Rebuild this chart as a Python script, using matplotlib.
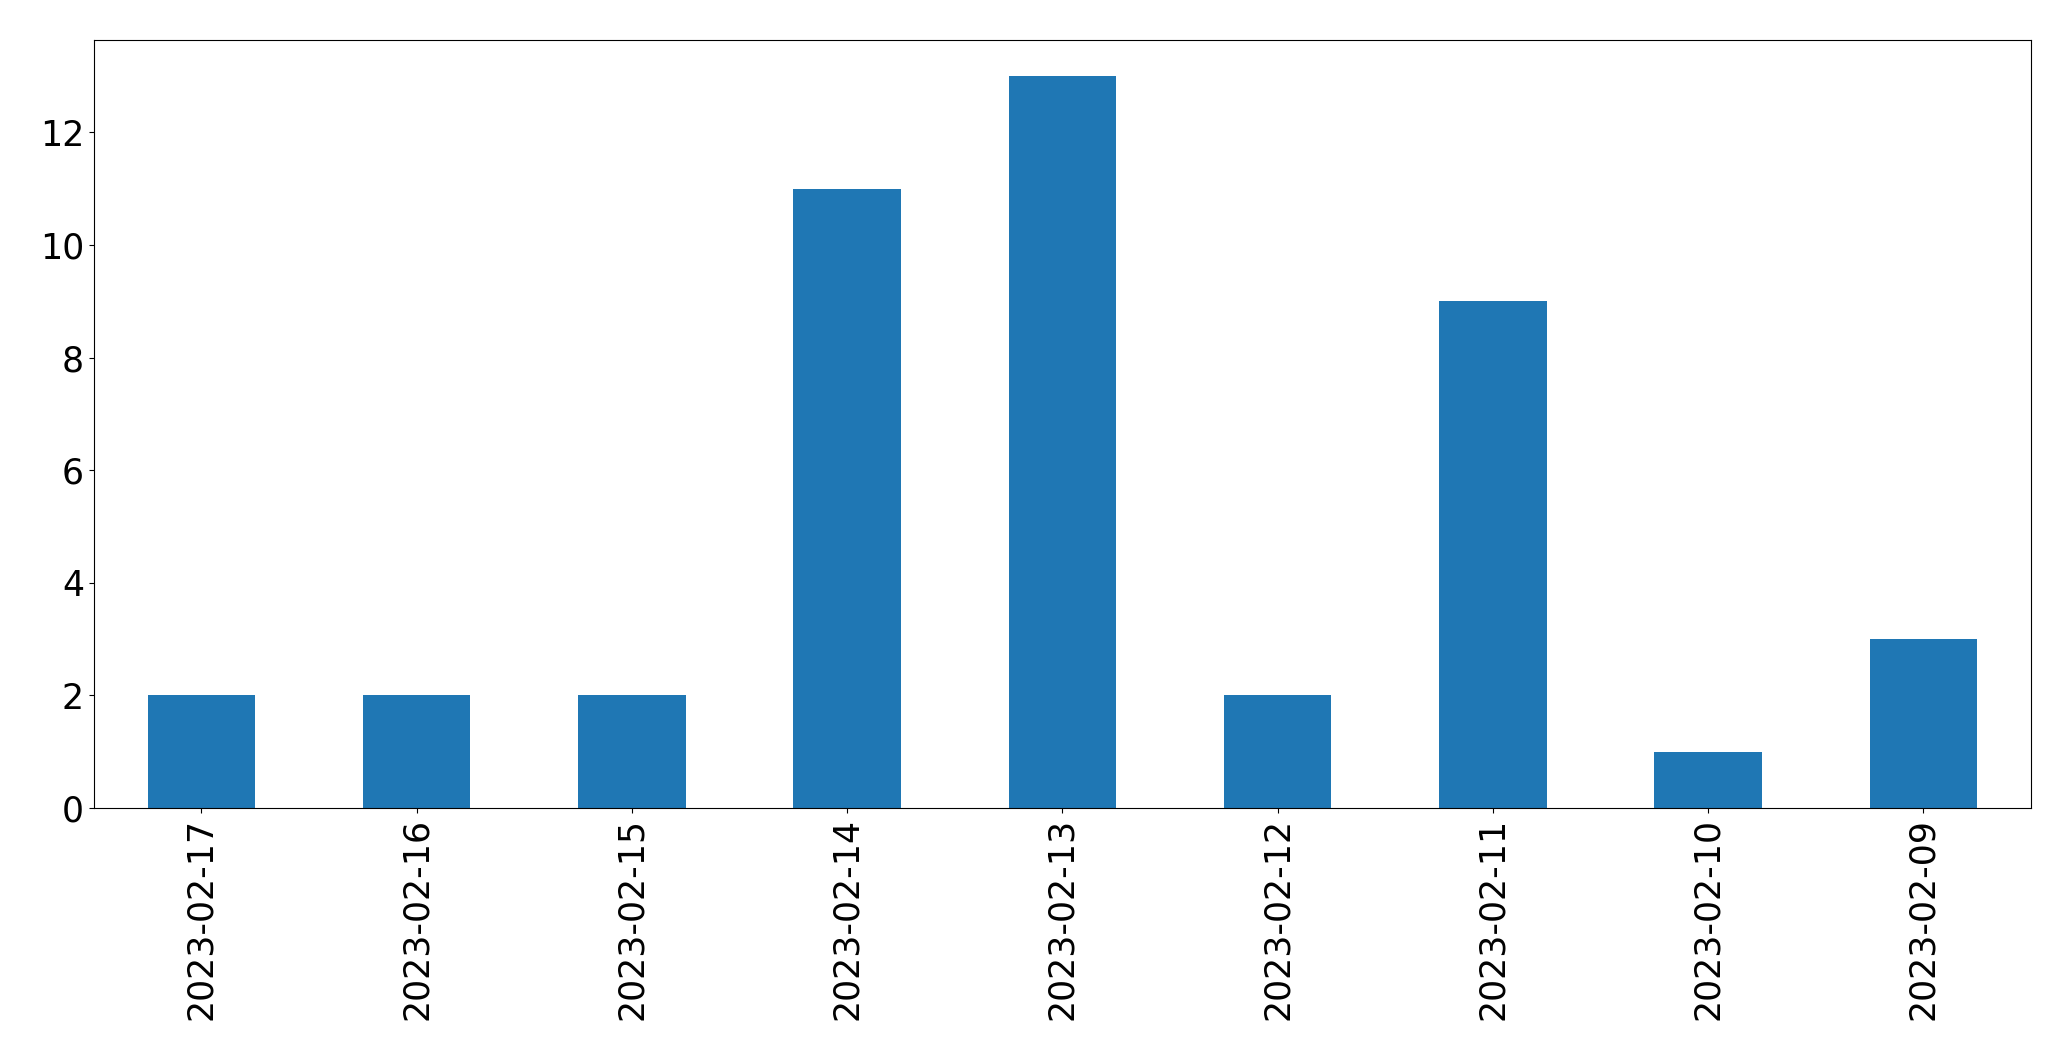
import matplotlib
matplotlib.use("Agg")
import matplotlib.pyplot as plt

dates = ["2023-02-17", "2023-02-16", "2023-02-15", "2023-02-14", "2023-02-13",
         "2023-02-12", "2023-02-11", "2023-02-10", "2023-02-09"]
counts = [2, 2, 2, 11, 13, 2, 9, 1, 3]

fig = plt.figure(figsize=(20.71, 10.61), dpi=100)
ax = fig.add_axes([0.0453, 0.2385, 0.9354, 0.7242])

ax.bar(range(len(dates)), counts, width=0.5, color="#1f77b4")
ax.set_xlim(-0.5, len(dates) - 0.5)
ax.set_xticks(range(len(dates)))
ax.set_xticklabels(dates, rotation=90)
ax.tick_params(labelsize=25)

fig.savefig("out.png", dpi=100)
